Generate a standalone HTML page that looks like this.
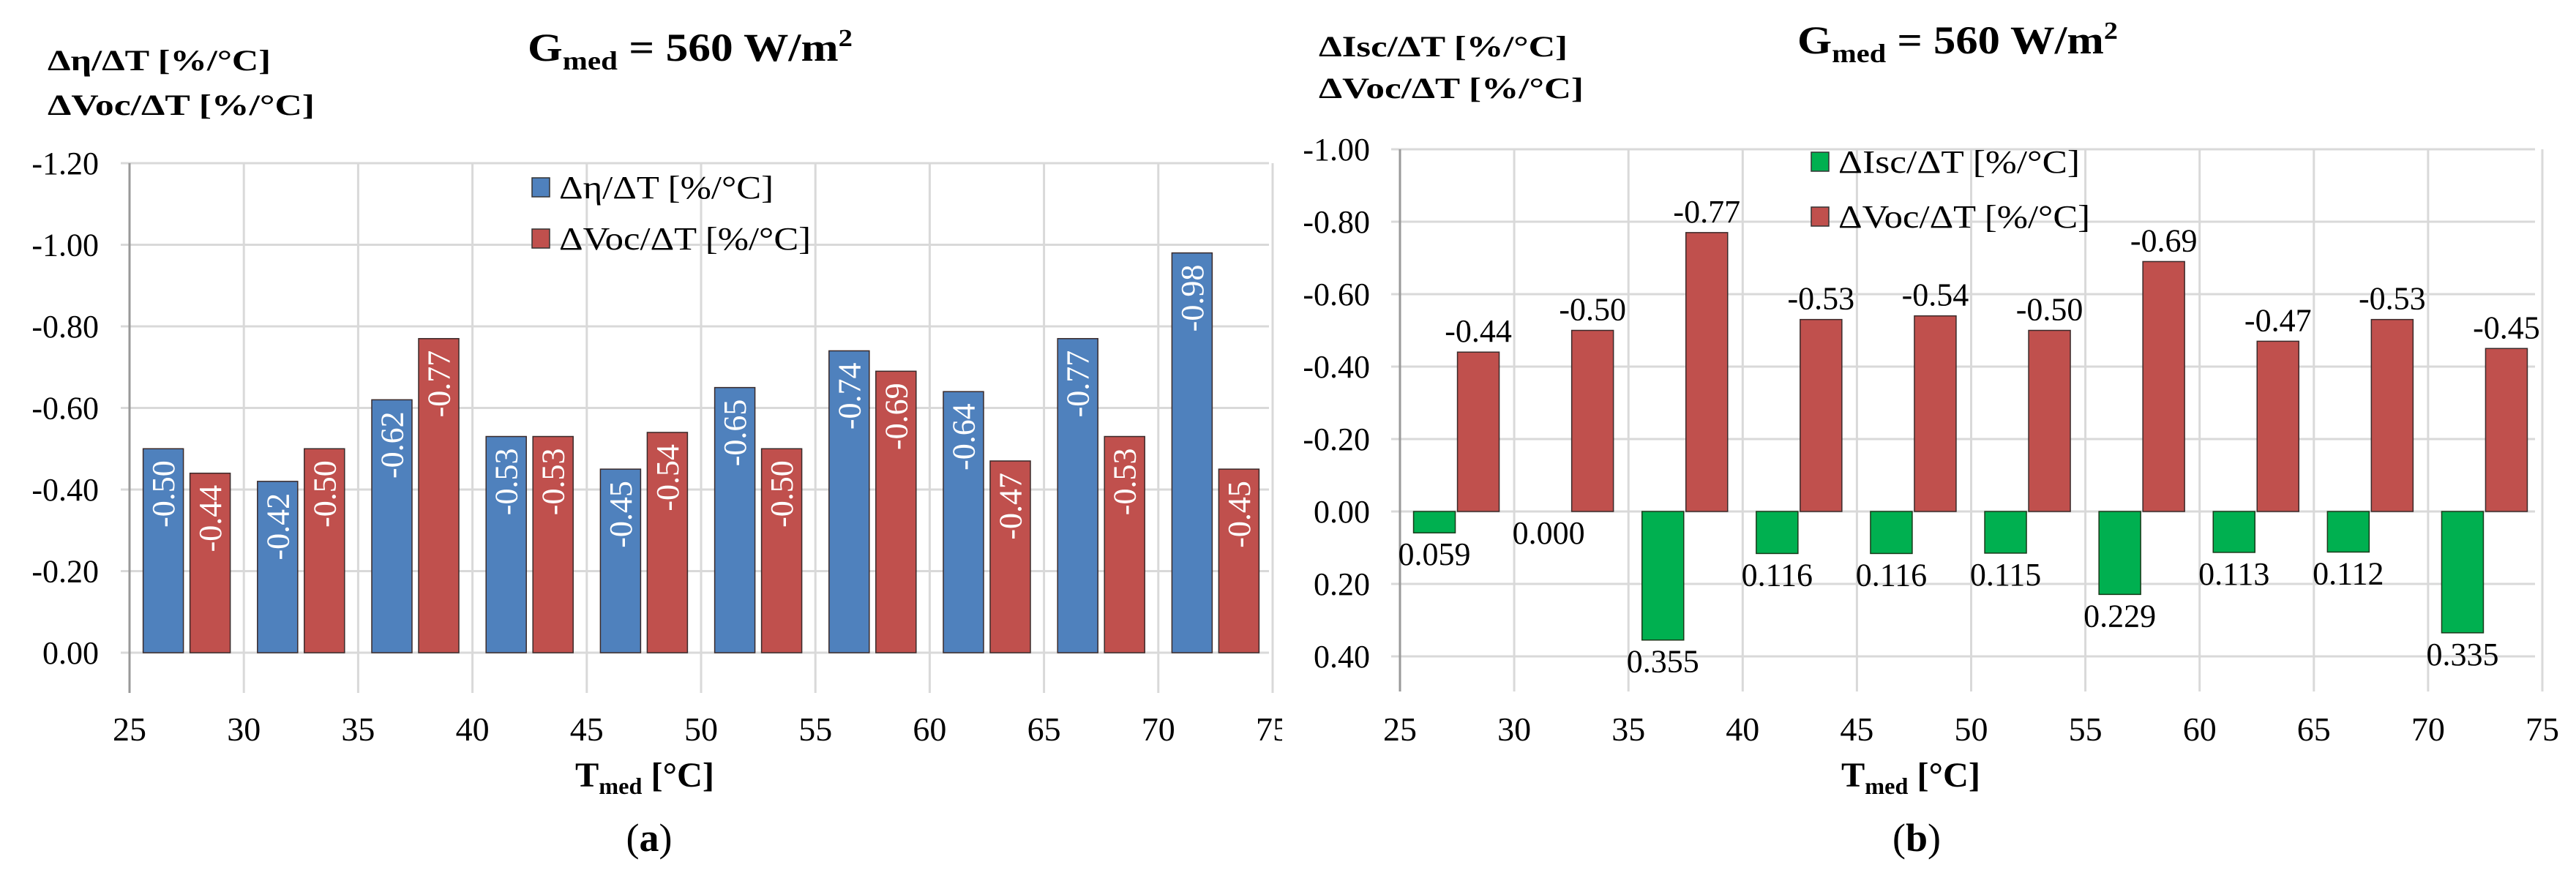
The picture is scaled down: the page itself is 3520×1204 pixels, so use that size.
<!DOCTYPE html>
<html><head><meta charset="utf-8">
<style>
html,body{margin:0;padding:0;background:#fff;}
svg{display:block;font-family:"Liberation Serif","DejaVu Serif",serif;}
svg text{font-family:"Liberation Serif","DejaVu Serif",serif;}
</style></head>
<body>
<svg id="fig" width="3520" height="1204" viewBox="0 0 3520 1204" xmlns="http://www.w3.org/2000/svg" font-family="Liberation Serif, serif">
  <text x="65" y="96" font-size="40" font-weight="bold" textLength="305" lengthAdjust="spacingAndGlyphs">Δη/ΔT [%/°C]</text>
  <text x="65" y="157" font-size="40" font-weight="bold" textLength="365" lengthAdjust="spacingAndGlyphs">ΔVoc/ΔT [%/°C]</text>
  <text x="721" y="83" font-size="54" font-weight="bold" textLength="444" lengthAdjust="spacingAndGlyphs">G<tspan font-size="36" dy="12">med</tspan><tspan dy="-12"> = 560 W/m</tspan><tspan font-size="34" dy="-20">2</tspan></text>
  <text x="786" y="1075" font-size="48" font-weight="bold" textLength="190" lengthAdjust="spacingAndGlyphs">T<tspan font-size="32" dy="10">med</tspan><tspan dy="-10"> [°C]</tspan></text>
  <text x="887" y="1163" font-size="54" text-anchor="middle">(<tspan font-weight="bold">a</tspan>)</text>

  <text x="1802" y="77" font-size="40" font-weight="bold" textLength="340" lengthAdjust="spacingAndGlyphs">ΔIsc/ΔT [%/°C]</text>
  <text x="1802" y="134" font-size="40" font-weight="bold" textLength="362" lengthAdjust="spacingAndGlyphs">ΔVoc/ΔT [%/°C]</text>
  <text x="2456" y="73" font-size="54" font-weight="bold" textLength="438" lengthAdjust="spacingAndGlyphs">G<tspan font-size="36" dy="12">med</tspan><tspan dy="-12"> = 560 W/m</tspan><tspan font-size="34" dy="-20">2</tspan></text>
  <text x="2516" y="1075" font-size="48" font-weight="bold" textLength="190" lengthAdjust="spacingAndGlyphs">T<tspan font-size="32" dy="10">med</tspan><tspan dy="-10"> [°C]</tspan></text>
  <text x="2619" y="1163" font-size="54" text-anchor="middle">(<tspan font-weight="bold">b</tspan>)</text>
</svg>
<script>
// ---- data ----
const categories = [27.5, 32.5, 37.5, 42.5, 47.5, 52.5, 57.5, 62.5, 67.5, 72.5];
const xTicks = [25, 30, 35, 40, 45, 50, 55, 60, 65, 70, 75];
const etaValues = [-0.50, -0.42, -0.62, -0.53, -0.45, -0.65, -0.74, -0.64, -0.77, -0.98];
const vocValuesA = [-0.44, -0.50, -0.77, -0.53, -0.54, -0.50, -0.69, -0.47, -0.53, -0.45];
const iscValues = [0.059, 0.000, 0.355, 0.116, 0.116, 0.115, 0.229, 0.113, 0.112, 0.335];
const vocValuesB = [-0.44, -0.50, -0.77, -0.53, -0.54, -0.50, -0.69, -0.47, -0.53, -0.45];
const yTicksA = [-1.20, -1.00, -0.80, -0.60, -0.40, -0.20, 0.00];
const yTicksB = [-1.00, -0.80, -0.60, -0.40, -0.20, 0.00, 0.20, 0.40];

const NS = 'http://www.w3.org/2000/svg';
const svg = document.getElementById('fig');
function mk(tag, attrs, parent) {
  const e = document.createElementNS(NS, tag);
  for (const k in attrs) e.setAttribute(k, attrs[k]);
  if (tag === 'text') e.setAttribute('font-family', 'Liberation Serif, serif');
  (parent || svg).appendChild(e);
  return e;
}
const BLUE = '#4F81BD', RED = '#C0504D', GREEN = '#00B050';

const A = {x0: 177, x1: 1734, yTop: 223, yZero: 892, yBot: 947};
function axA_x(v) { return 177 + (v - 25) / 50 * (1736 - 174); }
function axA_y(v) { return A.yZero + v / 1.2 * (A.yZero - A.yTop); }

const B = {x0: 1913, x1: 3464, yTop: 204, yZero: 699, yBot: 945};
function axB_x(v) { return 1913 + (v - 25) / 50 * (3470 - 1909); }
function axB_y(v) { return B.yZero + v * (B.yZero - B.yTop); }

function fmt(v, d) { return v.toFixed(d); }

yTicksA.forEach(t => {
  const y = axA_y(t);
  const g = mk('line', {x1: A.x0 - 12, x2: A.x1, y1: y, y2: y, stroke: '#d9d9d9', 'stroke-width': 3});
  
  
  const tl = mk('text', {x: 135, y: y + 15, 'font-size': 44, 'text-anchor': 'end'});
  tl.textContent = fmt(t, 2);
  
  
});
xTicks.forEach(t => {
  const x = axA_x(t);
  const g = mk('line', {x1: x, x2: x, y1: A.yTop, y2: A.yBot, stroke: t === 25 ? '#999' : '#d9d9d9', 'stroke-width': 3});
  
  
  const tl = mk('text', {x: x, y: 1012, 'font-size': 46, 'text-anchor': 'middle'});
  tl.textContent = t;
  
  
});

yTicksB.forEach(t => {
  const y = axB_y(t);
  const g = mk('line', {x1: B.x0 - 12, x2: B.x1, y1: y, y2: y, stroke: '#d9d9d9', 'stroke-width': 3});
  
  
  const tl = mk('text', {x: 1872, y: y + 15, 'font-size': 44, 'text-anchor': 'end'});
  tl.textContent = fmt(t, 2);
  
  
});
xTicks.forEach(t => {
  const x = axB_x(t);
  const g = mk('line', {x1: x, x2: x, y1: B.yTop, y2: B.yBot, stroke: t === 25 ? '#999' : '#d9d9d9', 'stroke-width': 3});
  
  
  const tl = mk('text', {x: x, y: 1012, 'font-size': 46, 'text-anchor': 'middle'});
  tl.textContent = t;
  
  
});

const BW = 55;
categories.forEach((c, i) => {
  const cx = axA_x(c);
  [[etaValues[i], BLUE, -32, 'bar-eta'], [vocValuesA[i], RED, 32, 'bar-voc-a']].forEach(([v, col, off, nm]) => {
    const yT = axA_y(v), x = cx + off - BW / 2;
    const r = mk('rect', {x: x, y: yT, width: BW, height: A.yZero - yT, fill: col, stroke: '#3a2a2a', 'stroke-width': 1.5});
    
    
    const tx = cx + off + 15, ty = yT + 16;
    const lbl = mk('text', {x: tx, y: ty, 'font-size': 44, fill: '#fff', 'text-anchor': 'end', transform: 'rotate(-90 ' + tx + ' ' + ty + ')'});
    lbl.textContent = fmt(v, 2);
    
    
  });
});

const BW2 = 57;
categories.forEach((c, i) => {
  const cx = axB_x(c);
  const vi = iscValues[i];
  const yI = axB_y(vi);
  if (vi > 0) {
    const r = mk('rect', {x: cx - 31 - BW2 / 2, y: B.yZero, width: BW2, height: yI - B.yZero, fill: GREEN, stroke: '#1a3a1a', 'stroke-width': 1.5});
    
    
  }
  const li = mk('text', {x: cx - 31, y: yI + 44, 'font-size': 44, 'text-anchor': 'middle'});
  li.textContent = fmt(vi, 3);
  
  
  const vv = vocValuesB[i];
  const yV = axB_y(vv);
  const r2 = mk('rect', {x: cx + 29 - BW2 / 2, y: yV, width: BW2, height: B.yZero - yV, fill: RED, stroke: '#3a2a2a', 'stroke-width': 1.5});
  
  
  const lv = mk('text', {x: cx + 29, y: yV - 14, 'font-size': 44, 'text-anchor': 'middle'});
  lv.textContent = fmt(vv, 2);
  
  
});

function legend(x, y, col, label, w, nm) {
  const s = mk('rect', {x: x, y: y, width: 24, height: 26, fill: col, stroke: '#333', 'stroke-width': 1.5});
  
  
  const t = mk('text', {x: x + 37, y: y + 28, 'font-size': 44, textLength: w, lengthAdjust: 'spacingAndGlyphs'});
  t.textContent = label;
  
  
}
legend(727, 243, BLUE, 'Δη/ΔT [%/°C]', 293, 'legend-entry-eta');
legend(727, 313, RED, 'ΔVoc/ΔT [%/°C]', 344, 'legend-entry-voc-a');
legend(2475, 208, GREEN, 'ΔIsc/ΔT [%/°C]', 330, 'legend-entry-isc');
legend(2475, 283, RED, 'ΔVoc/ΔT [%/°C]', 344, 'legend-entry-voc-b');

// panel-edge crops (reference clips the "75" labels)
const c1 = mk('rect', {x: 1752, y: 955, width: 40, height: 70, fill: '#fff'});


</script>
</body></html>
